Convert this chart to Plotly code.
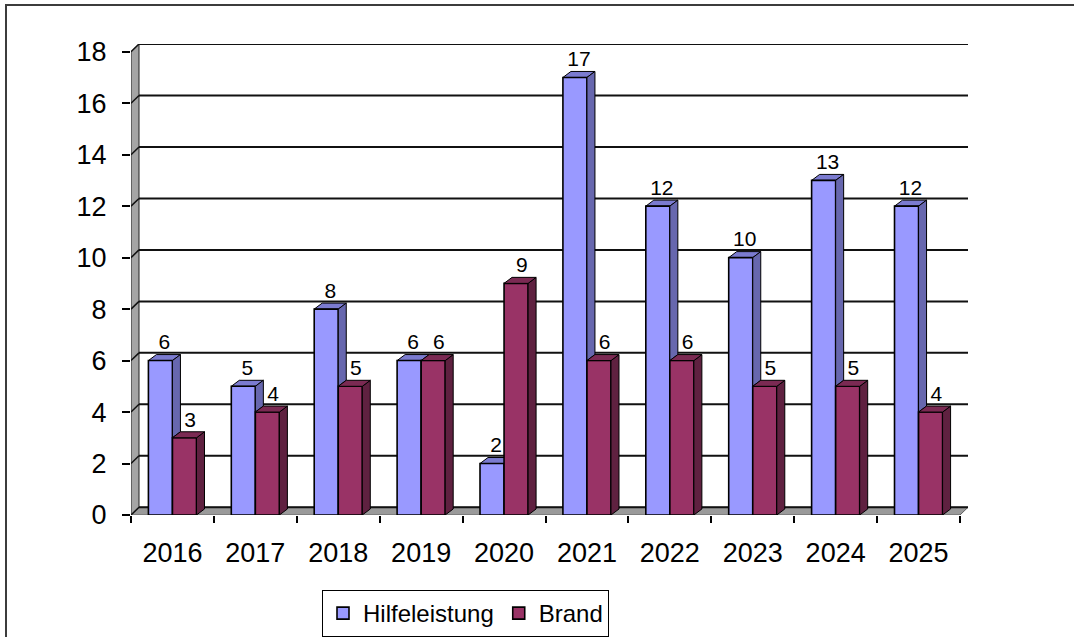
import plotly.graph_objects as go

# ---------------- data ----------------
years = ["2016", "2017", "2018", "2019", "2020", "2021", "2022", "2023", "2024", "2025"]
hilfeleistung = [6, 5, 8, 6, 2, 17, 12, 10, 13, 12]
brand = [3, 4, 5, 6, 9, 6, 6, 5, 5, 4]
y_ticks = [0, 2, 4, 6, 8, 10, 12, 14, 16, 18]

# ---------------- geometry / style ----------------
W, H = 1074, 637
PX_L, PX_R, PX_T, PX_B = 131, 968, 44, 515
CAT_PX = (960 - 131) / len(years)
UNIT_PX = (515 - 52) / 18.0
DX = 8 / CAT_PX            # depth offset (x, data units)
DYW = 0.3                  # wall depth offset (y, data units)
DYB = 6 / UNIT_PX          # bar depth offset (y, data units)
BW = 0.29                  # bar width in category units
YMAX = 18

FONT = "Liberation Sans, Arial, sans-serif"
H_FRONT, H_TOP, H_SIDE = "#9999FF", "#7B7BD0", "#6767AE"
B_FRONT, B_TOP, B_SIDE = "#993366", "#7B2A53", "#5F2140"
WALL = "#A5A5A5"

n = len(years)
xs = list(range(n))
X0, X1 = -0.5, n - 0.5


def poly(pts):
    return "M " + " L ".join(f"{x},{y}" for x, y in pts) + " Z"


below, above = [], []

# outer chart border (paper coords)
pw, ph = PX_R - PX_L, PX_B - PX_T
below.append(dict(type="rect", xref="paper", yref="paper",
                  x0=(6 - PX_L) / pw, x1=(1090 - PX_L) / pw,
                  y0=(PX_B - 660) / ph, y1=(PX_B - 5) / ph,
                  line=dict(color="#3C3C3C", width=2), fillcolor="rgba(0,0,0,0)",
                  layer="below"))

# left wall
below.append(dict(type="path", xref="x", yref="y", layer="below",
                  path=poly([(X0, 0), (X0 + DX, DYW), (X0 + DX, YMAX + DYW), (X0, YMAX)]),
                  fillcolor=WALL, line=dict(color="#202020", width=1)))
# floor
below.append(dict(type="path", xref="x", yref="y", layer="below",
                  path=poly([(X0, 0), (X1, 0), (X1 + DX, DYW), (X0 + DX, DYW)]),
                  fillcolor="#9A9A9A", line=dict(color="#606060", width=1)))
# gridlines on back wall + diagonal on side wall
for k in y_ticks:
    below.append(dict(type="line", xref="x", yref="y", layer="below",
                      x0=X0 + DX, x1=X1 + DX, y0=k + DYW, y1=k + DYW,
                      line=dict(color="#111111", width=2)))
    below.append(dict(type="line", xref="x", yref="y", layer="below",
                      x0=X0, x1=X0 + DX, y0=k, y1=k + DYW,
                      line=dict(color="#111111", width=1.5)))

# bar 3D faces
for i, (h, b) in enumerate(zip(hilfeleistung, brand)):
    hx0, hx1 = i - BW, i
    bx0, bx1 = i, i + BW
    below.append(dict(type="path", xref="x", yref="y", layer="below",
                      path=poly([(hx0, h), (hx1, h), (hx1 + DX, h + DYB), (hx0 + DX, h + DYB)]),
                      fillcolor=H_TOP, line=dict(color="black", width=1)))
    if h > b:
        above.append(dict(type="path", xref="x", yref="y", layer="above",
                          path=poly([(hx1, b), (hx1 + DX, b + DYB), (hx1 + DX, h + DYB), (hx1, h)]),
                          fillcolor=H_SIDE, line=dict(color="black", width=1)))
    above.append(dict(type="path", xref="x", yref="y", layer="above",
                      path=poly([(bx1, 0), (bx1 + DX, DYB), (bx1 + DX, b + DYB), (bx1, b)]),
                      fillcolor=B_SIDE, line=dict(color="black", width=1)))
    above.append(dict(type="path", xref="x", yref="y", layer="above",
                      path=poly([(bx0, b), (bx1, b), (bx1 + DX, b + DYB), (bx0 + DX, b + DYB)]),
                      fillcolor=B_TOP, line=dict(color="black", width=1)))

fig = go.Figure()
fig.add_trace(go.Bar(x=xs, y=hilfeleistung, name="Hilfeleistung", width=BW, offset=-BW,
                     marker=dict(color=H_FRONT, line=dict(color="black", width=1.6)),
                     hoverinfo="skip"))
fig.add_trace(go.Bar(x=xs, y=brand, name="Brand", width=BW, offset=0,
                     marker=dict(color=B_FRONT, line=dict(color="black", width=1.6)),
                     hoverinfo="skip"))
fig.add_trace(go.Scatter(x=[i - BW / 2 + DX / 2 for i in xs], y=[v + DYB for v in hilfeleistung],
                         mode="text", text=[str(v) for v in hilfeleistung],
                         textposition="top center", textfont=dict(size=21, color="black", family=FONT),
                         showlegend=False, cliponaxis=False, hoverinfo="skip"))
fig.add_trace(go.Scatter(x=[i + BW / 2 + DX / 2 + 0.02 for i in xs], y=[v + DYB for v in brand],
                         mode="text", text=[str(v) for v in brand],
                         textposition="top center", textfont=dict(size=21, color="black", family=FONT),
                         showlegend=False, cliponaxis=False, hoverinfo="skip"))

fig.update_layout(
    width=W, height=H,
    margin=dict(l=PX_L, r=W - PX_R, t=PX_T, b=H - PX_B, pad=0, autoexpand=False),
    paper_bgcolor="white", plot_bgcolor="white",
    barmode="overlay",
    font=dict(family=FONT, size=27, color="black"),
    shapes=below + above,
    showlegend=True,
    legend=dict(orientation="h", x=(322 - PX_L) / pw, y=(PX_B - 590) / ph,
                xanchor="left", yanchor="top", bordercolor="black", borderwidth=1,
                font=dict(size=24, family=FONT, color="black"), bgcolor="white",
                itemwidth=30, traceorder="normal", tracegroupgap=0),
    xaxis=dict(range=[X0, X1 + DX], tickmode="array", tickvals=xs, ticktext=years,
               ticks="outside", ticklen=7, tickcolor="rgba(0,0,0,0)",
               ticklabelstandoff=7, automargin=False,
               minor=dict(tickmode="array", tickvals=[x - 0.5 for x in range(n + 1)],
                          ticks="outside", ticklen=7, tickcolor="black", tickwidth=1.5,
                          showgrid=False),
               showgrid=False, zeroline=False, showline=False,
               tickfont=dict(size=27, family=FONT, color="black"), fixedrange=True),
    yaxis=dict(range=[0, YMAX + DYW], tickmode="array", tickvals=y_ticks,
               ticks="outside", ticklen=8, tickcolor="black", tickwidth=1.5,
               ticklabelstandoff=10, automargin=False,
               showgrid=False, zeroline=False, showline=False,
               tickfont=dict(size=27, family=FONT, color="black"), fixedrange=True),
)

fig.write_html("out.html", config={"displayModeBar": False},
               post_script="document.body.style.margin='0';document.body.style.overflow='hidden';")
